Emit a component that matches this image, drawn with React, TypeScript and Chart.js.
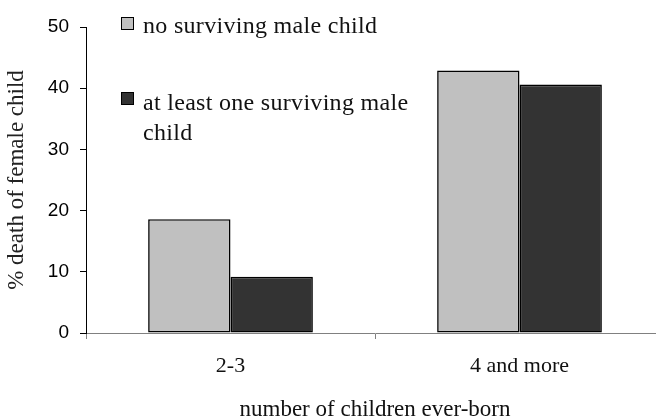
import React, { useEffect, useRef } from "react";
import { Chart, registerables } from "chart.js";

Chart.register(...registerables);

const categories = ["2-3", "4 and more"];
const noSurvivingMale = [18.6, 42.9];
const atLeastOneMale = [9.2, 40.6];
const seriesLabels = ["no surviving male child", "at least one surviving male child"];
const yAxisTitle = "% death of female child";
const xAxisTitle = "number of children ever-born";

const SERIF = "'Liberation Serif', 'Times New Roman', serif";
const SANS = "'Liberation Sans', Arial, sans-serif";

export default function App() {
  const ref = useRef<HTMLCanvasElement | null>(null);

  useEffect(() => {
    if (!ref.current) return;
    const chart = new Chart(ref.current, {
      type: "bar",
      data: {
        labels: categories,
        datasets: [
          {
            label: seriesLabels[0],
            data: noSurvivingMale,
            backgroundColor: "#c0c0c0",
            borderColor: "#000000",
            borderWidth: 1.6,
            borderSkipped: false,
            categoryPercentage: 0.57,
            barPercentage: 1,
          },
          {
            label: seriesLabels[1],
            data: atLeastOneMale,
            backgroundColor: "#333333",
            borderColor: "#000000",
            borderWidth: 1.6,
            borderSkipped: false,
            categoryPercentage: 0.57,
            barPercentage: 1,
          },
        ],
      },
      options: {
        responsive: false,
        animation: false,
        devicePixelRatio: 1,
        layout: { padding: { left: 0, right: 6, top: 27, bottom: 0 } },
        plugins: {
          legend: { display: false },
          tooltip: { enabled: false },
        },
        scales: {
          x: {
            grid: {
              drawOnChartArea: false,
              drawTicks: true,
              tickLength: 6,
              color: "#808080",
              lineWidth: 1,
            },
            border: { color: "#808080", width: 1 },
            ticks: {
              color: "#111",
              font: { family: SERIF, size: 22 },
              padding: 14,
            },
            title: {
              display: true,
              text: xAxisTitle,
              color: "#111",
              font: { family: SERIF, size: 23 },
              padding: { top: 0, bottom: 6 },
            },
            afterFit: (scale: any) => {
              scale.height = 97;
            },
          },
          y: {
            min: 0,
            max: 50,
            ticks: {
              stepSize: 10,
              color: "#000",
              font: { family: SANS, size: 19 },
              padding: 11,
            },
            grid: {
              drawOnChartArea: false,
              drawTicks: true,
              tickLength: 6,
              color: "#000",
              lineWidth: 1,
            },
            border: { color: "#000", width: 1 },
            title: {
              display: true,
              text: yAxisTitle,
              color: "#222",
              font: { family: SERIF, size: 23 },
              padding: { top: 3, bottom: 0 },
            },
            afterFit: (scale: any) => {
              scale.width = 86;
            },
          },
        },
      },
    });
    return () => chart.destroy();
  }, []);

  const boxStyle = (fill: string): React.CSSProperties => ({
    position: "absolute",
    left: 121,
    width: 11,
    height: 11,
    border: "1.5px solid #000",
    background: fill,
  });
  const textStyle: React.CSSProperties = {
    position: "absolute",
    left: 143,
    fontFamily: SERIF,
    fontSize: 24,
    lineHeight: "30px",
    letterSpacing: "0.3px",
    color: "#111",
    whiteSpace: "nowrap",
  };

  return (
    <div
      style={{
        position: "fixed",
        left: 0,
        top: 0,
        width: 656,
        height: 419,
        overflow: "hidden",
        background: "#fff",
      }}
    >
      <canvas ref={ref} width={670} height={430} style={{ width: 670, height: 430, display: "block" }} />
      <div style={{ ...boxStyle("#c0c0c0"), top: 17 }} />
      <div style={{ ...textStyle, top: 10 }}>{seriesLabels[0]}</div>
      <div style={{ ...boxStyle("#333333"), top: 92 }} />
      <div style={{ ...textStyle, top: 87 }}>
        at least one surviving male
        <br />
        child
      </div>
    </div>
  );
}
